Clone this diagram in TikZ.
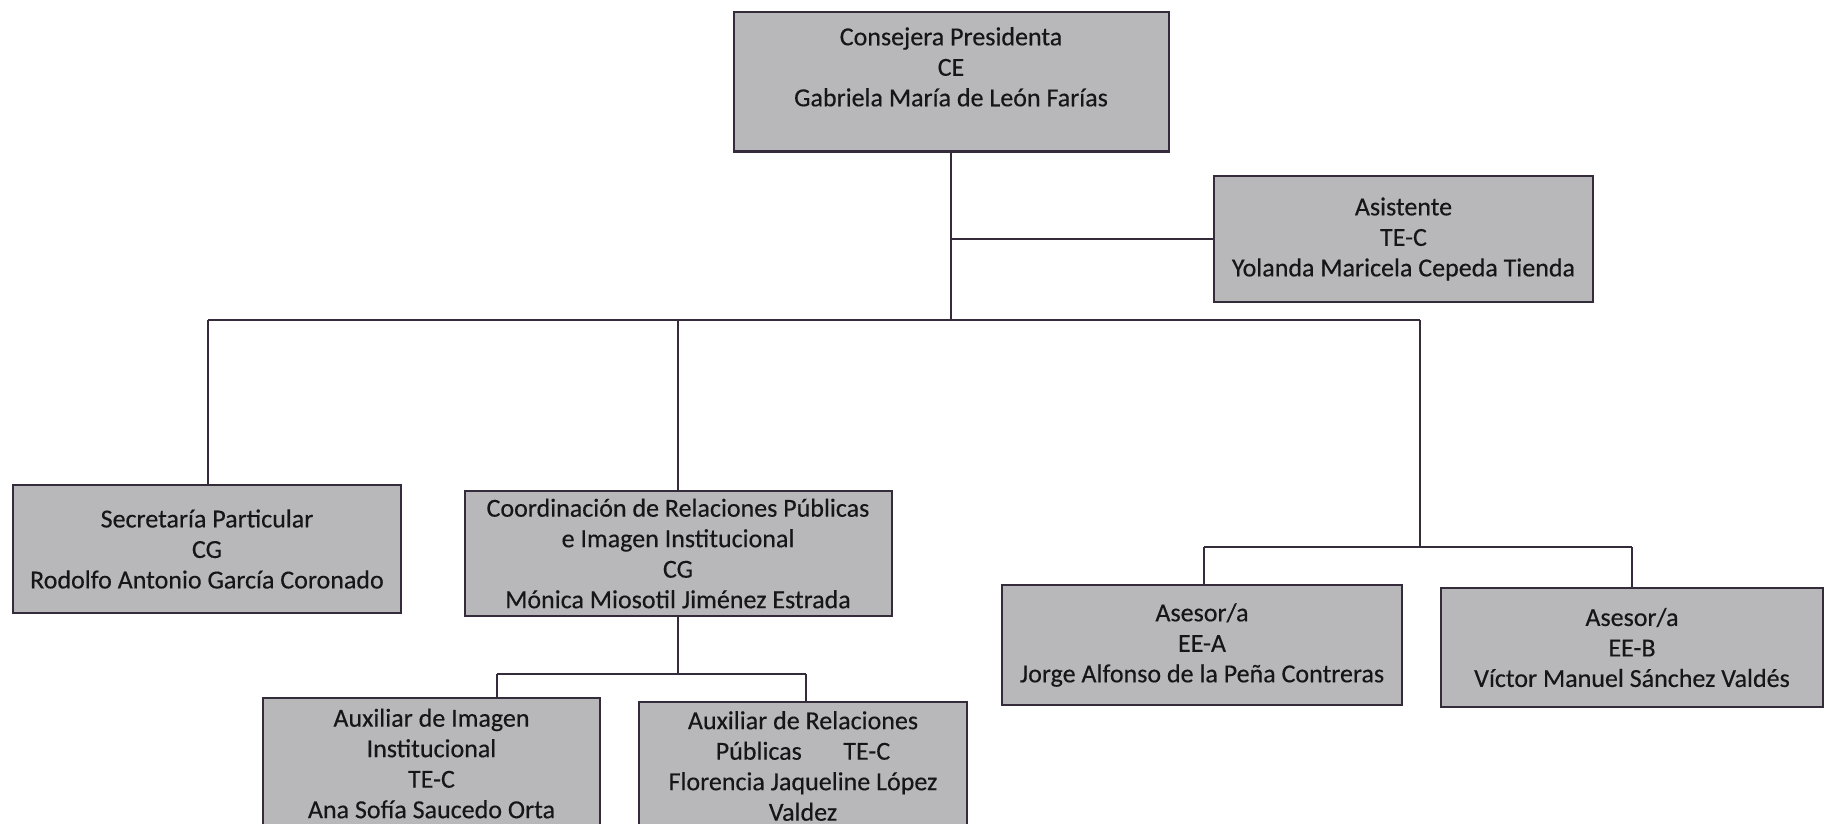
\documentclass[tikz,border=0pt]{standalone}
\usepackage{fontspec}
\setmainfont{Carlito}[FakeBold=0.35]
\definecolor{boxfill}{RGB}{184,184,186}
\definecolor{edge}{RGB}{52,44,58}
\definecolor{ink}{RGB}{22,22,24}
\tikzset{
  orgbox/.style={draw=edge, line width=2pt, fill=boxfill, rectangle, align=center,
    text=ink, inner sep=0pt, font=\fontsize{26}{30.5}\selectfont},
  conn/.style={draw=edge, line width=1.8pt}
}
\begin{document}
\begin{tikzpicture}[x=1pt,y=-1pt]
\useasboundingbox (0,0) rectangle (1836,824);
\fill[white] (0,0) rectangle (1836,824);
% boxes
\node[orgbox, minimum width=435pt, minimum height=139pt] (cp) at (951,82)
  {Consejera Presidenta\\CE\\Gabriela María de León Farías\\~};
\node[orgbox, minimum width=379pt, minimum height=126pt] (asis) at (1403.5,239)
  {Asistente\\TE-C\\Yolanda Maricela Cepeda Tienda};
\node[orgbox, minimum width=388pt, minimum height=128pt] (sec) at (207,549)
  {Secretaría Particular\\CG\\Rodolfo Antonio García Coronado};
\node[orgbox, minimum width=427pt, minimum height=125pt] (coord) at (678,553.5)
  {Coordinación de Relaciones Públicas\\e Imagen Institucional\\CG\\Mónica Miosotil Jiménez Estrada};
\node[orgbox, minimum width=400pt, minimum height=120pt] (asA) at (1202,645)
  {Asesor/a\\EE-A\\Jorge Alfonso de la Peña Contreras};
\node[orgbox, minimum width=382pt, minimum height=119pt] (asB) at (1632,647.5)
  {Asesor/a\\EE-B\\Víctor Manuel Sánchez Valdés};
\node[orgbox, minimum width=337pt, minimum height=131pt] (aux1) at (431.5,763.5)
  {Auxiliar de Imagen\\Institucional\\TE-C\\Ana Sofía Saucedo Orta};
\node[orgbox, minimum width=328pt, minimum height=128pt] (aux2) at (803,766)
  {Auxiliar de Relaciones\\Públicas\hspace{1.6em}TE-C\\Florencia Jaqueline López\\Valdez};
% junction points
\coordinate (b1) at (208,320);
\coordinate (b2) at (1420,320);
\coordinate (c1) at (1204,547);
\coordinate (c2) at (1632,547);
\coordinate (d1) at (497,674);
\coordinate (d2) at (806,674);
% connectors
\draw[conn] (cp.south) -- (cp.south |- b1);
\draw[conn] (cp.south |- asis.west) -- (asis.west);
\draw[conn] (b1) -- (b2);
\draw[conn] (b1) -- (b1 |- sec.north);
\draw[conn] (coord.north |- b1) -- (coord.north);
\draw[conn] (b2) -- (b2 |- c1);
\draw[conn] (c1) -- (c2);
\draw[conn] (c1) -- (c1 |- asA.north);
\draw[conn] (c2) -- (asB.north);
\draw[conn] (coord.south) -- (coord.south |- d1);
\draw[conn] (d1) -- (d2);
\draw[conn] (d1) -- (d1 |- aux1.north);
\draw[conn] (d2) -- (d2 |- aux2.north);
\end{tikzpicture}
\end{document}
